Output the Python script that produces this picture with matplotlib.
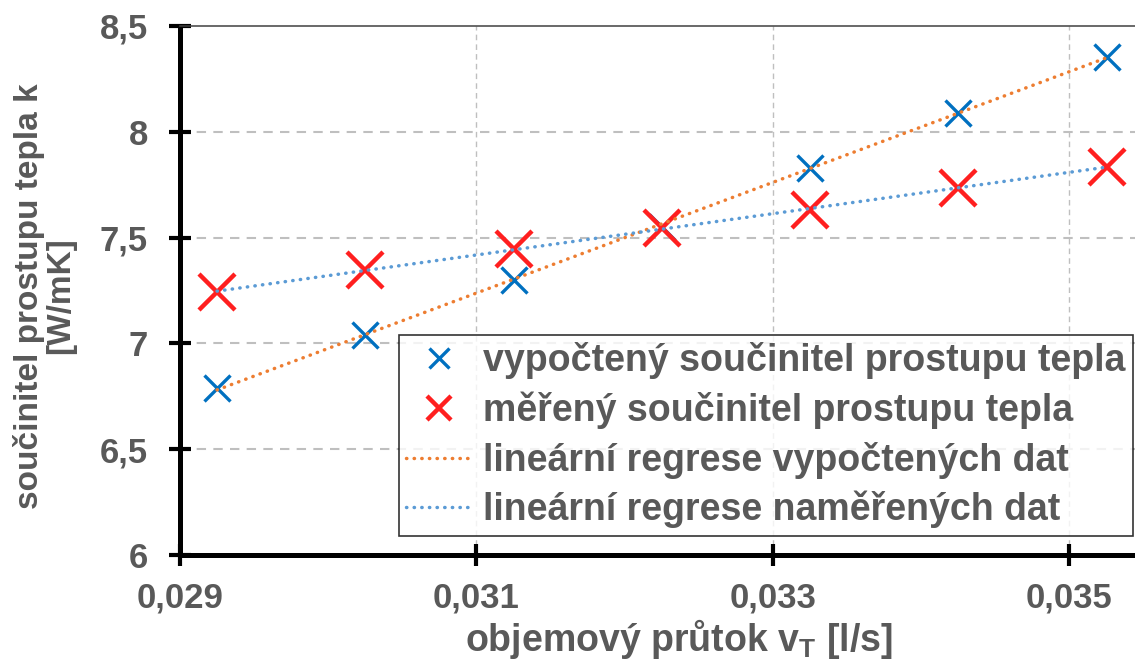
import matplotlib
matplotlib.use("Agg")
import matplotlib.pyplot as plt
from matplotlib.lines import Line2D
from matplotlib.ticker import FuncFormatter
import numpy as np

plt.rcParams['font.family'] = ['Liberation Sans', 'DejaVu Sans']
plt.rcParams['font.weight'] = 'bold'

# objemovy prutok [l/s]
flow = [0.02925, 0.03025, 0.03125, 0.03225, 0.03325, 0.03425, 0.03525]
# vypocteny soucinitel prostupu tepla [W/mK]
k_calc = [6.79, 7.04, 7.30, 7.55, 7.83, 8.09, 8.355]
# mereny soucinitel prostupu tepla [W/mK]
k_meas = [7.245, 7.345, 7.445, 7.545, 7.63, 7.735, 7.835]

x_ticks = [0.029, 0.031, 0.033, 0.035]
y_ticks = [6, 6.5, 7, 7.5, 8, 8.5]

text_col = '#595959'
blue = '#0070C0'
red = '#FF1F1F'
orange_line = '#ED7D31'
blue_line = '#5B9BD5'
dots = (0, (0.1, 2.1))

fig = plt.figure(figsize=(11.35, 6.68), dpi=100)
ax = fig.add_axes([180 / 1135, 113 / 668, (1143.6 - 180) / 1135, 529 / 668])

x = np.array(flow)
fit_calc = np.polyfit(x, k_calc, 1)
fit_meas = np.polyfit(x, k_meas, 1)
xs = np.array([x.min(), x.max()])

ax.plot(x, k_calc, linestyle='none', marker='x', ms=19, mew=2.4, color=blue, zorder=3)
ax.plot(x, k_meas, linestyle='none', marker='x', ms=26, mew=3.2, color=red, zorder=4)
ax.plot(xs, np.polyval(fit_calc, xs), linestyle=dots, lw=2.5,
        dash_capstyle='round', color=orange_line, zorder=5)
ax.plot(xs, np.polyval(fit_meas, xs), linestyle=dots, lw=2.5,
        dash_capstyle='round', color=blue_line, zorder=5)

ax.set_xlim(0.029, 0.0355)
ax.set_ylim(6, 8.5)
ax.set_xticks(x_ticks)
ax.set_yticks(y_ticks)
ax.xaxis.set_major_formatter(FuncFormatter(lambda v, p: f"{v:.3f}".replace('.', ',')))
ax.yaxis.set_major_formatter(FuncFormatter(lambda v, p: f"{v:g}".replace('.', ',')))

# grid
for yv in y_ticks[1:-1]:
    ax.axhline(yv, color='#BFBFBF', lw=1.5, linestyle=(0, (4.5, 3.5)), zorder=1)
for xv in x_ticks[1:]:
    ax.axvline(xv, color='#BFBFBF', lw=1.0, linestyle=(0, (4, 3)), zorder=1)

for side in ['left', 'bottom']:
    ax.spines[side].set_linewidth(3.6)
    ax.spines[side].set_color('black')
ax.spines['right'].set_visible(False)
ax.spines['top'].set_linewidth(1.1)
ax.spines['top'].set_color('#404040')

ax.tick_params(axis='both', direction='inout', length=16, width=3, color='black',
               labelsize=25, labelcolor=text_col)
ax.tick_params(axis='y', pad=15)
ax.tick_params(axis='x', pad=11)

ax.set_ylabel("součinitel prostupu tepla k\n[W/mK]", fontsize=24, color=text_col,
              fontweight='bold', linespacing=1.0)
ax.yaxis.set_label_coords(-0.108, 0.49)
ax.set_xlabel("objemový průtok v$_\\mathregular{T}$ [l/s]", fontsize=27, color=text_col,
              fontweight='bold')
ax.xaxis.set_label_coords(0.518, -0.118)

handles = [
    Line2D([], [], linestyle='none', marker='x', ms=15, mew=2.4, color=blue),
    Line2D([], [], linestyle='none', marker='x', ms=17, mew=3.2, color=red),
    Line2D([], [], linestyle=dots, lw=2.5, dash_capstyle='round', color=orange_line),
    Line2D([], [], linestyle=dots, lw=2.5, dash_capstyle='round', color=blue_line),
]
labels = [
    "vypočtený součinitel prostupu tepla",
    "měřený součinitel prostupu tepla",
    "lineární regrese vypočtených dat",
    "lineární regrese naměřených dat",
]
leg = ax.legend(handles, labels, loc='lower right',
                bbox_to_anchor=(1133 / 1135, (668 - 536) / 668),
                bbox_transform=fig.transFigure, borderaxespad=0,
                prop={'size': 27, 'weight': 'bold'}, labelcolor=text_col,
                frameon=True, fancybox=False, edgecolor='black',
                handlelength=1.75, handletextpad=0.3, borderpad=0.2,
                labelspacing=0.33)
leg.get_frame().set_linewidth(1.2)
leg.set_zorder(10)

fig.savefig("out.png", dpi=100)
